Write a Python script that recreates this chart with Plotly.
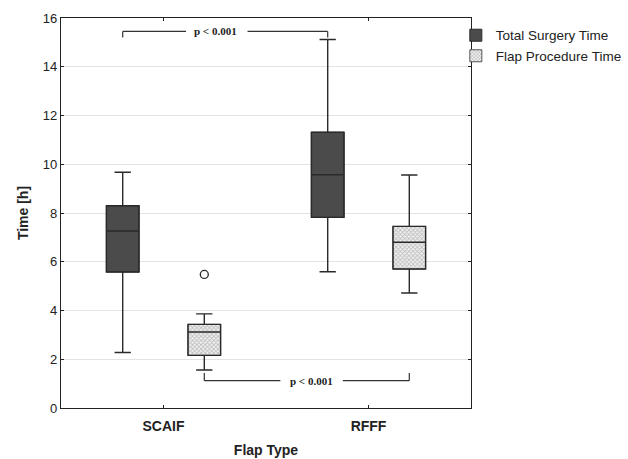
import plotly.graph_objects as go

categories = ["SCAIF", "RFFF"]

total_lower = [2.28, 5.59]
total_q1 = [5.58, 7.82]
total_median = [7.26, 9.57]
total_q3 = [8.30, 11.31]
total_upper = [9.67, 15.12]

flap_lower = [1.56, 4.72]
flap_q1 = [2.16, 5.70]
flap_median = [3.12, 6.80]
flap_q3 = [3.43, 7.45]
flap_upper = [3.86, 9.56]

flap_outlier_cat = ["SCAIF"]
flap_outlier_val = [5.48]

y_ticks = [0, 2, 4, 6, 8, 10, 12, 14, 16]

GAP = 0.204
GROUPGAP = 0.6
OFF = (1 - GAP) / 4  # offset of each series from category centre

DARK = "#4b4b4b"
EDGE = "#2a2a2a"

fig = go.Figure()

# box bodies (fill/pattern) as bars, also used for the legend
fig.add_trace(go.Bar(
    x=categories, y=[q3 - q1 for q1, q3 in zip(total_q1, total_q3)], base=total_q1,
    name="Total Surgery Time", marker=dict(color=DARK, line=dict(color=EDGE, width=1)),
    hoverinfo="skip"))
fig.add_trace(go.Bar(
    x=categories, y=[q3 - q1 for q1, q3 in zip(flap_q1, flap_q3)], base=flap_q1,
    name="Flap Procedure Time",
    marker=dict(color="#e6e6e6", line=dict(color="#555", width=1),
                pattern=dict(shape="x", size=3, solidity=0.5, fgcolor="#8a8a8a", bgcolor="#f2f2f2")),
    hoverinfo="skip"))

# boxes (outline, median, whiskers)
fig.add_trace(go.Box(
    x=categories, q1=total_q1, median=total_median, q3=total_q3,
    lowerfence=total_lower, upperfence=total_upper,
    offsetgroup="total", alignmentgroup="a",
    fillcolor="rgba(0,0,0,0)", line=dict(color=EDGE, width=1.4), whiskerwidth=0.5,
    showlegend=False, hoverinfo="skip"))
fig.add_trace(go.Box(
    x=categories, q1=flap_q1, median=flap_median, q3=flap_q3,
    lowerfence=flap_lower, upperfence=flap_upper,
    offsetgroup="flap", alignmentgroup="a",
    fillcolor="rgba(0,0,0,0)", line=dict(color=EDGE, width=1.4), whiskerwidth=0.5,
    showlegend=False, hoverinfo="skip"))
fig.add_trace(go.Box(
    x=flap_outlier_cat, y=flap_outlier_val,
    offsetgroup="flap", alignmentgroup="a",
    boxpoints="all", jitter=0, pointpos=0,
    fillcolor="rgba(0,0,0,0)", line=dict(color="rgba(0,0,0,0)", width=0),
    marker=dict(symbol="circle-open", size=8, color=EDGE, line=dict(width=1.3)),
    showlegend=False, hoverinfo="skip"))

# significance brackets
line_style = dict(color="#333", width=1.2)
top_y, top_end = 15.45, 15.2
x0, x1 = 0 - OFF, 1 - OFF
segs = [
    (x0, top_end, x0, top_y), (x0, top_y, 0.11, top_y),
    (0.41, top_y, x1, top_y), (x1, top_y, x1, top_end),
]
bot_y, bot_end = 1.12, 1.44
b0, b1 = 0 + OFF, 1 + OFF
segs += [
    (b0, bot_end, b0, bot_y), (b0, bot_y, 0.57, bot_y),
    (0.875, bot_y, b1, bot_y), (b1, bot_y, b1, bot_end),
]
for (xa, ya, xb, yb) in segs:
    fig.add_shape(type="line", xref="x", yref="y", x0=xa, y0=ya, x1=xb, y1=yb, line=line_style)

pfont = dict(family="Liberation Serif", size=11, color="#222")
fig.add_annotation(x=0.255, y=top_y, xref="x", yref="y", text="<b>p < 0.001</b>",
                   showarrow=False, font=pfont)
fig.add_annotation(x=0.72, y=bot_y, xref="x", yref="y", text="<b>p < 0.001</b>",
                   showarrow=False, font=pfont)

fig.update_layout(
    width=628, height=459,
    margin=dict(l=61, r=157, t=18, b=51, autoexpand=False),
    paper_bgcolor="white", plot_bgcolor="white",
    barmode="group", bargap=GAP, bargroupgap=GROUPGAP,
    boxmode="group", boxgap=GAP, boxgroupgap=GROUPGAP,
    font=dict(family="Liberation Sans", color="#222", size=13),
    legend=dict(x=0.963, y=0.995, xanchor="left", yanchor="top",
                font=dict(size=13.5, color="#222"), bgcolor="rgba(0,0,0,0)",
                tracegroupgap=0, itemwidth=30),
    xaxis=dict(type="category", categoryorder="array", categoryarray=categories,
               range=[-0.5, 1.5], showline=True, linecolor="#222", linewidth=1.2, mirror="ticks",
               ticks="inside", ticklen=3, tickcolor="#222", showgrid=False, automargin=False,
               tickfont=dict(size=14, family="Liberation Sans", color="#222"),
               ticklabelstandoff=5,
               tickvals=categories, ticktext=["<b>SCAIF</b>", "<b>RFFF</b>"],
               title=dict(text="<b>Flap Type</b>", font=dict(size=14), standoff=12)),
    yaxis=dict(range=[0, 16], tickvals=y_ticks, showline=True, linecolor="#222", linewidth=1.2,
               mirror="ticks", ticks="inside", ticklen=3, tickcolor="#222", automargin=False,
               showgrid=True, gridcolor="#e3e3e3", gridwidth=1, zeroline=False,
               tickfont=dict(size=13),
               title=dict(text="<b>Time [h]</b>", font=dict(size=14), standoff=10)),
)

fig.write_html("out.html", config={"displayModeBar": False},
               post_script="document.body.style.margin='0';")
